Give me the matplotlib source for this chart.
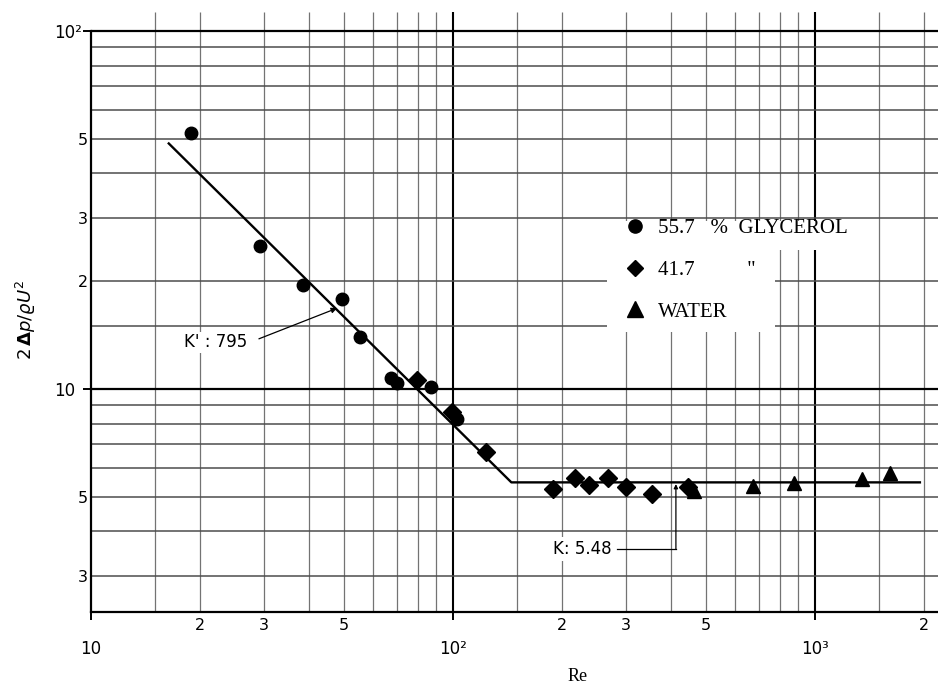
import numpy as np
import matplotlib
matplotlib.use("Agg")
import matplotlib.pyplot as plt
from matplotlib.lines import Line2D
from matplotlib.patches import Rectangle

#--------------------------------------------
# data (Re, 2 dp / rho U^2)
glyc557_re = [18.9, 29.3, 38.5, 49.3, 55.3, 67.5, 70.0, 86.9, 102.6]
glyc557_f = [51.9, 25.1, 19.5, 17.8, 14.0, 10.7, 10.4, 10.1, 8.25]

glyc417_re = [79.5, 99.4, 123, 189, 217, 238, 268, 301, 355, 446]
glyc417_f = [10.6, 8.63, 6.67, 5.26, 5.64, 5.40, 5.64, 5.33, 5.09, 5.33]

water_re = [463, 675, 875, 1350, 1610]
water_f = [5.19, 5.36, 5.46, 5.61, 5.82]

# fitted lines  K'/Re  and  K = 5.48
fit_re = [16.4, 145, 1950]
fit_f = [48.5, 5.48, 5.48]

legend_labels = ["55.7   %  GLYCEROL", '41.7          "', "WATER"]

x_major = [10, 100, 1000]
x_major_labels = ["10", "10²", "10³"]
x_minor = [20, 30, 50, 200, 300, 500, 2000]
x_minor_labels = ["2", "3", "5", "2", "3", "5", "2"]
y_major = [10, 100]
y_major_labels = ["10", "10²"]
y_minor = [3, 5, 20, 30, 50]
y_minor_labels = ["3", "5", "2", "3", "5"]

# graph paper rulings
x_grid = [15, 20, 30, 40, 50, 60, 70, 80, 90,
          150, 200, 300, 400, 500, 600, 700, 800, 900, 1500, 2000]
x_grid_heavy = [100, 1000]
y_grid = [3, 4, 5, 6, 7, 8, 9, 15, 20, 30, 40, 50, 60, 70, 80, 90]
y_grid_heavy = [10, 100]

#--------------------------------------------
# figure
fig = plt.figure(figsize=(9.38, 6.88), dpi=100)
ax = fig.add_axes([91/938, 76/688, 847/938, 600/688])
ax.set_xscale("log")
ax.set_yscale("log")
xmin, xmax = 10, 2188
ymin, ymax = 2.38, 113
ax.set_xlim(xmin, xmax)
ax.set_ylim(ymin, ymax)

ax.vlines(x_grid, ymin, ymax, color="0.45", lw=0.9, zorder=1)
ax.vlines(x_grid_heavy, ymin, ymax, color="k", lw=1.5, zorder=1)
ax.hlines(y_grid, xmin, xmax, color="0.3", lw=1.1, zorder=1)
ax.hlines(y_grid_heavy, xmin, xmax, color="k", lw=1.6, zorder=1)

for s in ["top", "right"]:
    ax.spines[s].set_visible(False)
ax.spines["left"].set_bounds(ymin, 100)
ax.spines["left"].set_linewidth(1.6)
ax.spines["bottom"].set_linewidth(1.6)

# fit line and points
ax.plot(fit_re, fit_f, color="k", lw=1.7, zorder=3)
ax.plot(glyc557_re, glyc557_f, "o", color="k", ms=9, zorder=4)
ax.plot(glyc417_re, glyc417_f, "D", color="k", ms=9.5, zorder=4)
ax.plot(water_re, water_f, "^", color="k", ms=9.5, zorder=4)

#--------------------------------------------
# ticks
ax.set_xticks(x_major)
ax.set_xticklabels(x_major_labels)
ax.set_xticks(x_minor, minor=True)
ax.set_xticklabels(x_minor_labels, minor=True)
ax.set_yticks(y_major)
ax.set_yticklabels(y_major_labels)
ax.set_yticks(y_minor, minor=True)
ax.set_yticklabels(y_minor_labels, minor=True)

ax.tick_params(axis="x", which="major", length=5.8, width=1.4, pad=14.4, labelsize=12)
ax.tick_params(axis="x", which="minor", length=0, pad=4.3, labelsize=11.5)
ax.tick_params(axis="y", which="major", length=5.8, width=1.4, pad=20.9, labelsize=12)
ax.tick_params(axis="y", which="minor", length=0, pad=2.2, labelsize=11.5)
for lab in ax.get_yticklabels():
    lab.set_horizontalalignment("left")

ax.set_xlabel("Re", family="Liberation Serif", fontsize=13)
ax.xaxis.set_label_coords((578 - 91) / 847, -(668 - 612) / 600)
ax.set_ylabel(r"$2\,\mathbf{\Delta} p/\varrho U^2$", fontsize=13)
ax.yaxis.set_label_coords((38 - 91) / 847, 1 - (320 - 12) / 600)

#--------------------------------------------
# annotations
ax.text(27.0, 13.5, "K' : 795", ha="right", va="center", fontsize=12,
        bbox=dict(facecolor="white", edgecolor="none", pad=1), zorder=5)
ax.annotate("", xy=(47.8, 16.8), xytext=(29.1, 13.8),
            arrowprops=dict(arrowstyle="-|>", color="k", lw=0.9,
                            mutation_scale=8, shrinkA=0, shrinkB=0), zorder=5)

ax.text(275, 3.57, "K: 5.48", ha="right", va="center", fontsize=12,
        bbox=dict(facecolor="white", edgecolor="none", pad=2), zorder=5)
ax.plot([284, 413], [3.57, 3.57], color="k", lw=0.9, zorder=5)
ax.annotate("", xy=(413, 5.42), xytext=(413, 3.57),
            arrowprops=dict(arrowstyle="-|>", color="k", lw=0.9,
                            mutation_scale=6, shrinkA=0, shrinkB=0), zorder=5)

#--------------------------------------------
# legend on a white patch of the paper
def px_to_axes(px, py):
    return (px - 91) / 847, 1 - (py - 12) / 600

x0, y0 = px_to_axes(607, 332)
x1, y1 = px_to_axes(775, 221)
ax.add_patch(Rectangle((x0, y0), x1 - x0, y1 - y0, transform=ax.transAxes,
                       facecolor="white", edgecolor="none", zorder=2))
x2, y2 = px_to_axes(860, 250)
ax.add_patch(Rectangle((x1, y2), x2 - x1, y1 - y2, transform=ax.transAxes,
                       facecolor="white", edgecolor="none", zorder=2))

handles = [Line2D([], [], marker="o", ls="none", color="k", ms=9.5),
           Line2D([], [], marker="D", ls="none", color="k", ms=8.5),
           Line2D([], [], marker="^", ls="none", color="k", ms=11)]
leg = ax.legend(handles, legend_labels, loc="upper left",
                bbox_to_anchor=px_to_axes(604, 198),
                prop={"family": "Liberation Serif", "size": 15},
                frameon=False, borderpad=1.0, handlelength=1.0,
                handletextpad=0.6, labelspacing=1.06, borderaxespad=0)
leg.set_zorder(6)

fig.savefig("out.png", dpi=100)
